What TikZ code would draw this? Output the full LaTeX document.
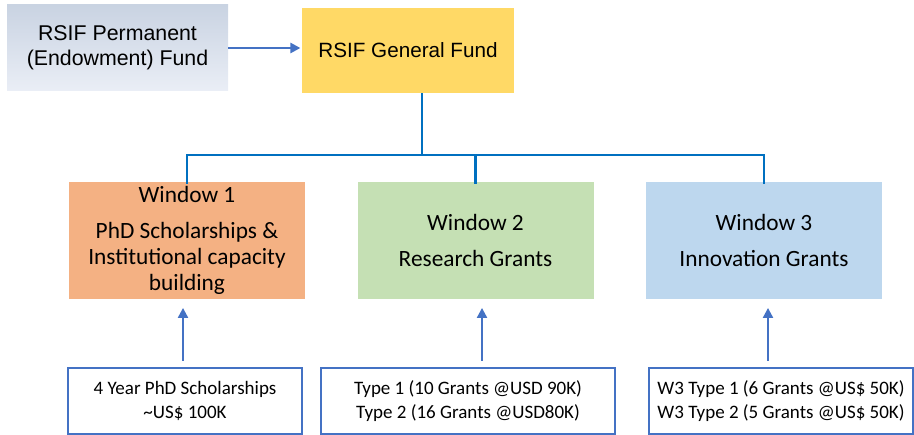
\documentclass[tikz,border=0pt]{standalone}
\usepackage{fontspec}
\newfontfamily\arialfont{Liberation Sans}
\newfontfamily\califont{Carlito}
\usetikzlibrary{arrows.meta, positioning}
\definecolor{fundblue}{HTML}{C9D3E2}
\definecolor{fundlight}{HTML}{EAEEF6}
\definecolor{fundyellow}{HTML}{FFD966}
\definecolor{winorange}{HTML}{F4B183}
\definecolor{wingreen}{HTML}{C5E0B4}
\definecolor{winblue}{HTML}{BDD7EE}
\definecolor{treeblue}{HTML}{0070C0}
\definecolor{arrowblue}{HTML}{4472C4}
\tikzset{
  >={Triangle[length=7.5pt,width=7.5pt]},
  permbox/.style={top color=fundblue, bottom color=fundlight, minimum width=165.75pt,
    minimum height=64.5pt, align=center, inner sep=0pt,
    font=\arialfont\fontsize{16}{18.75}\selectfont},
  genbox/.style={fill=fundyellow, minimum width=159pt, minimum height=63.75pt,
    align=center, inner sep=0pt, font=\arialfont\fontsize{15.5}{18}\selectfont},
  winbox/.style={minimum width=177pt, minimum height=87.75pt, align=center,
    inner sep=0pt, font=\califont\fontsize{17.5}{19.5}\selectfont},
  typebox/.style={draw=arrowblue, line width=0.8pt, fill=white, minimum height=49.5pt,
    align=center, inner sep=0pt, font=\califont\fontsize{14.25}{17.4}\selectfont},
  trunk/.style={draw=treeblue, line width=2pt},
  feed/.style={->, draw=arrowblue, fill=arrowblue, line width=1.6pt},
}
\begin{document}
\begin{tikzpicture}[x=0.75pt,y=-0.75pt]
  \useasboundingbox (0,0) rectangle (914,435);
  \node[permbox] (perm) at (117.5,48) {RSIF Permanent\\(Endowment) Fund};
  \node[genbox] (gen) at (408,50.5) {RSIF General Fund};

  \node[winbox, fill=winorange] (w1) at (187,240.5)
    {Window 1\\[7.5pt]PhD Scholarships \&\\Institutional capacity\\building};
  \node[winbox, fill=wingreen] (w2) at (475.5,240.5) {Window 2\\[7.5pt]Research Grants};
  \node[winbox, fill=winblue] (w3) at (764,240.5) {Window 3\\[7.5pt]Innovation Grants};

  \node[typebox, minimum width=175.5pt] (b1) at (185,401)
    {4 Year PhD Scholarships\\\textasciitilde US\$ 100K};
  \node[typebox, minimum width=220.5pt] (b2) at (468,401)
    {Type 1 (10 Grants @USD 90K)\\Type 2 (16 Grants @USD80K)};
  \node[typebox, minimum width=198pt] (b3) at (781,401)
    {W3 Type 1 (6 Grants @US\$ 50K)\\W3 Type 2 (5 Grants @US\$ 50K)};

  \coordinate (split) at (422,155);
  \coordinate (u1) at (183,0);
  \coordinate (u2) at (482,0);
  \coordinate (u3) at (768,0);

  \draw[feed, line width=2pt, shorten >=1pt] (perm.east) -- (perm.east -| gen.west);
  \draw[trunk] (split |- gen.south) -- (split);
  \draw[trunk] ([yshift=-1.5pt]w1.north) -- (w1.north |- split) -- (w3.north |- split)
    -- ([yshift=-1.5pt]w3.north);
  \draw[trunk] (w2.north |- split) -- ([yshift=-1.5pt]w2.north);

  \draw[feed, shorten <=5pt, shorten >=6.5pt] (u1 |- b1.north) -- (u1 |- w1.south);
  \draw[feed, shorten <=5pt, shorten >=6.5pt] (u2 |- b2.north) -- (u2 |- w2.south);
  \draw[feed, shorten <=5pt, shorten >=6.5pt] (u3 |- b3.north) -- (u3 |- w3.south);
\end{tikzpicture}
\end{document}
